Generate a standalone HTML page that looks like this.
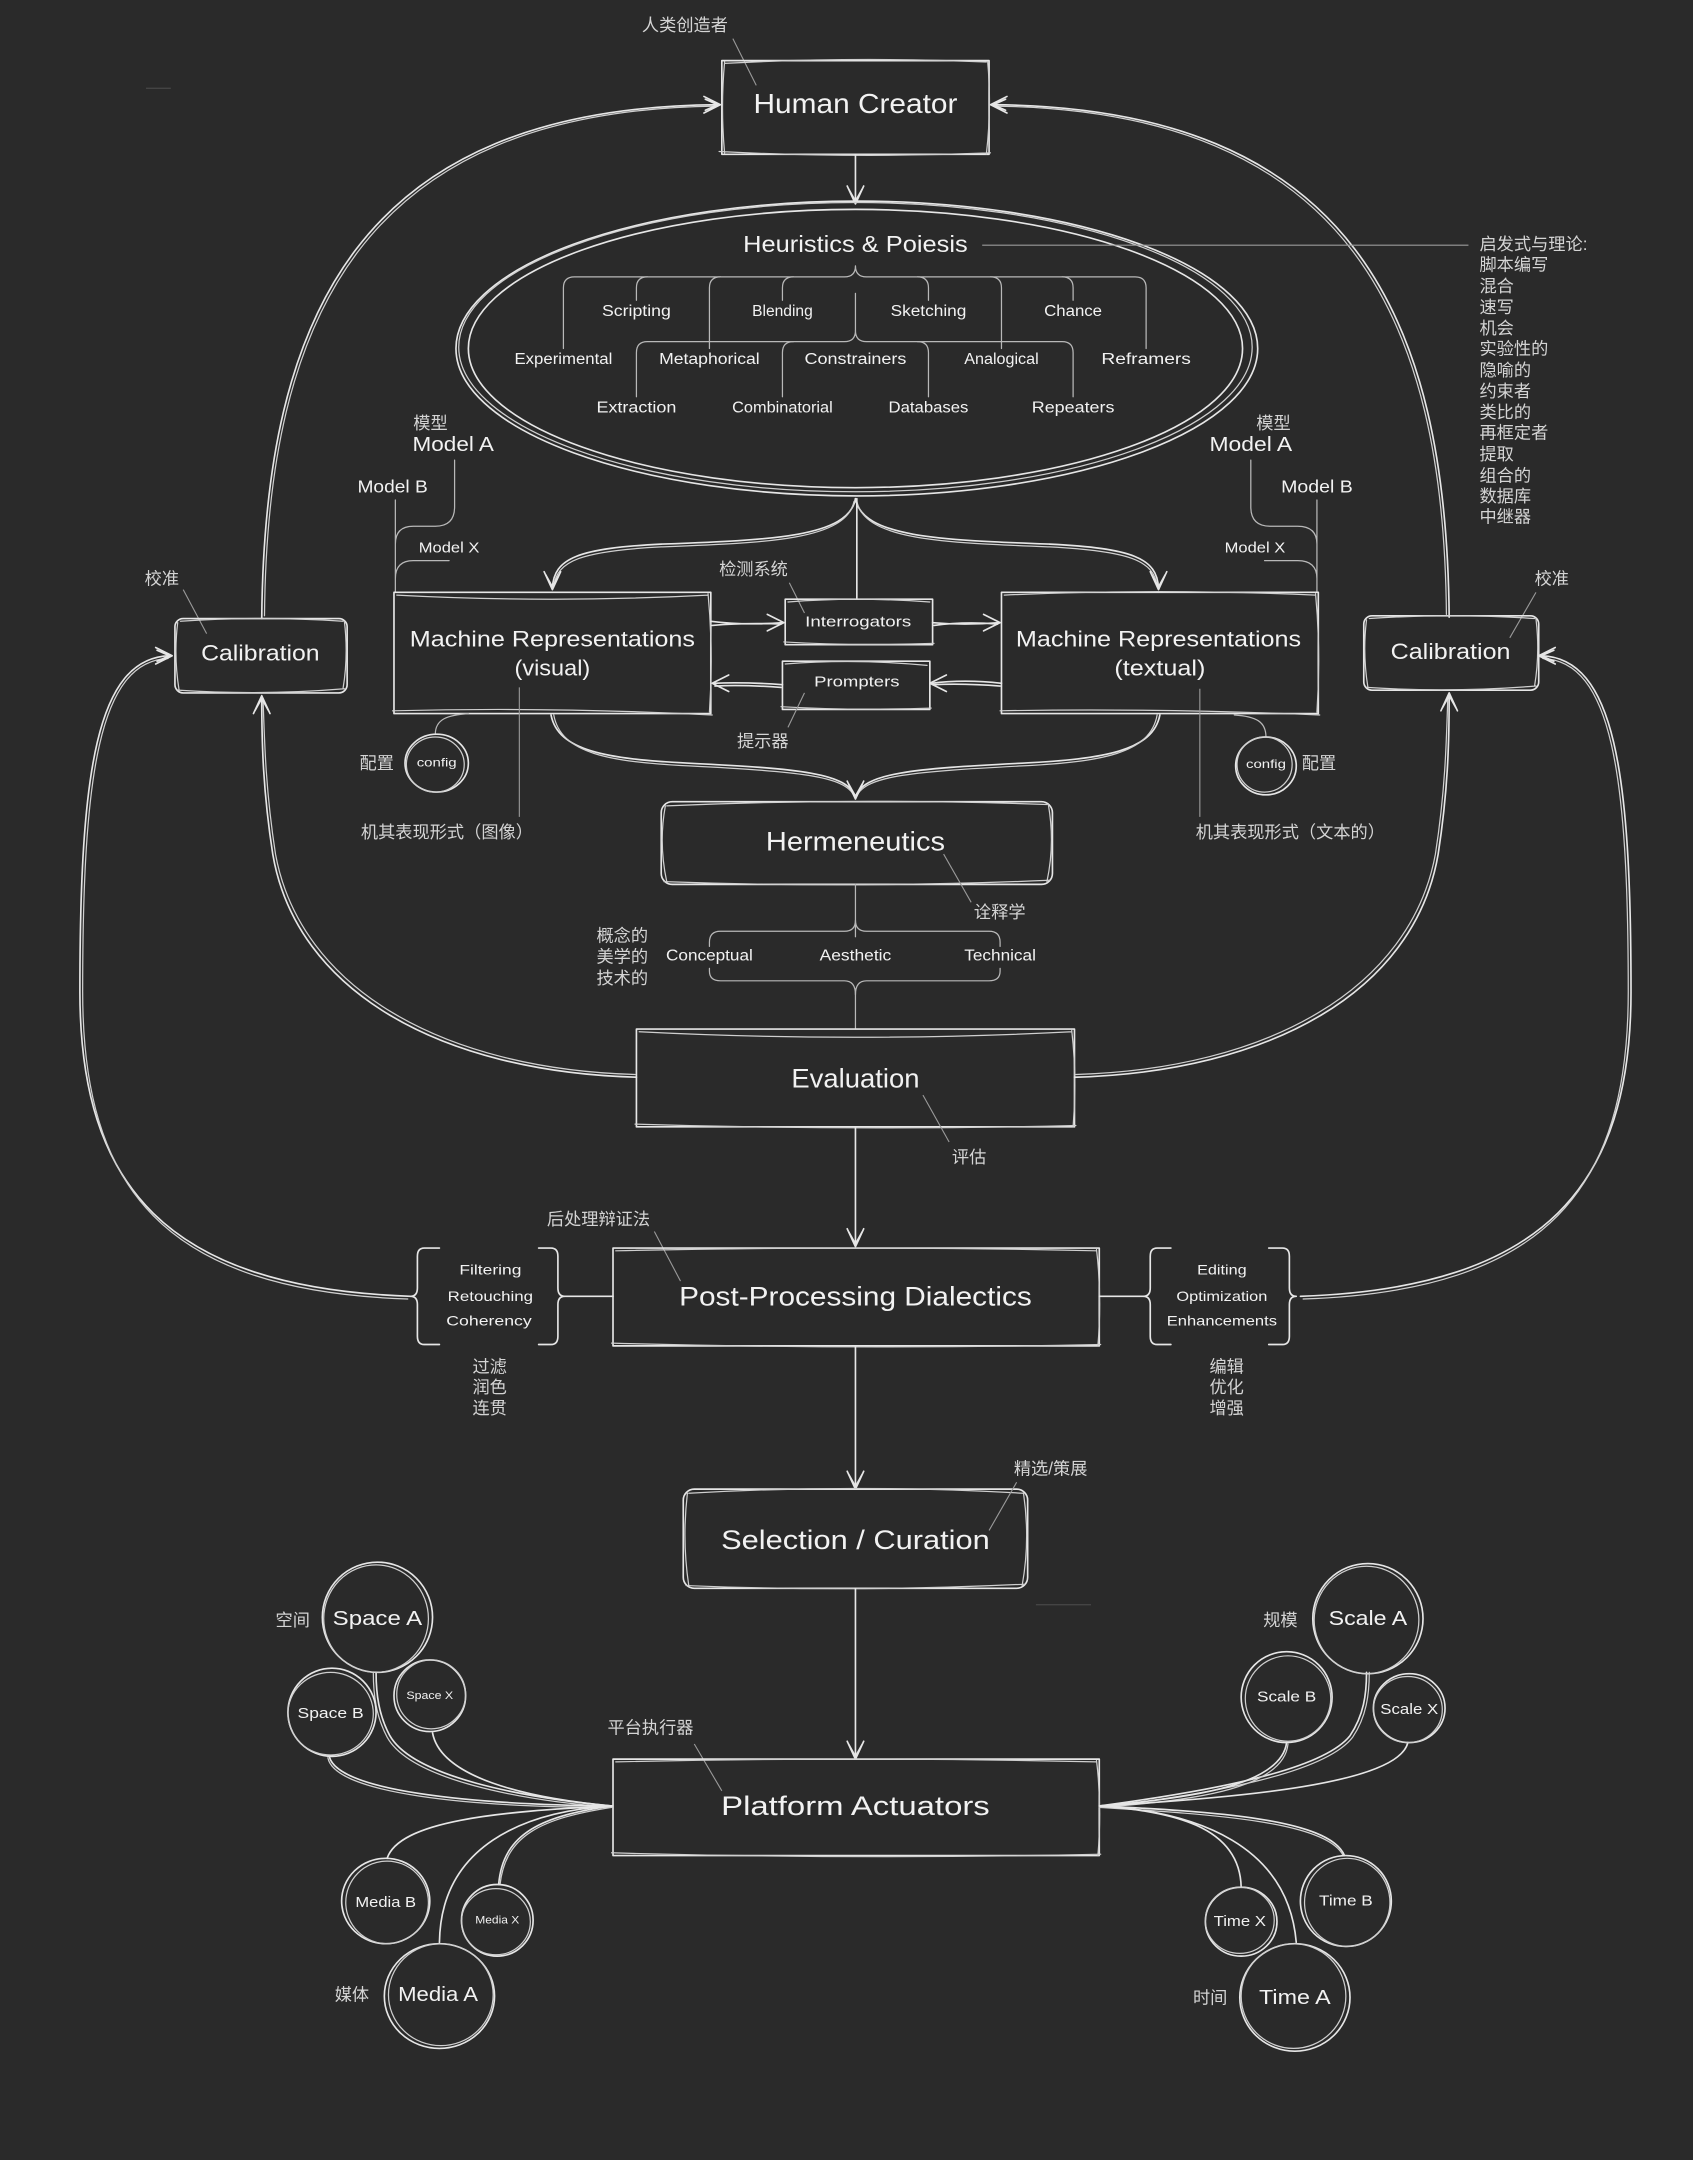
<!DOCTYPE html>
<html><head><meta charset="utf-8">
<style>
html,body{margin:0;padding:0;background:#2a2a2a;}
svg{display:block}
.e{font-family:"Liberation Sans",sans-serif;fill:#f2f2f2;dominant-baseline:central;text-anchor:middle}
.c{font-family:"Liberation Sans","Noto Sans CJK SC",sans-serif;fill:#d4d4d4;dominant-baseline:central;font-size:12.5px}
.s{fill:none;stroke:#e6e6e6;stroke-width:1.2;stroke-linecap:round;stroke-linejoin:round}
.s2{fill:none;stroke:#cfcfcf;stroke-width:0.9;stroke-linecap:round;stroke-linejoin:round}
.b{fill:none;stroke:#b8b8b8;stroke-width:0.9;stroke-linecap:round;stroke-linejoin:round}
.t{fill:none;stroke:#9a9a9a;stroke-width:0.8}
</style></head><body>
<svg width="1693" height="2160" viewBox="0 0 1229 1568" preserveAspectRatio="none" xmlns="http://www.w3.org/2000/svg">
<rect x="0" y="0" width="1229" height="1568" fill="#2a2a2a"/>
<line x1="106" y1="64" x2="124" y2="64" stroke="#555" stroke-width="0.6"/>

<!-- ===== Human Creator ===== -->
<text class="c" x="466" y="18" font-size="13">人类创造者</text>
<path class="t" d="M532,28 L549,62"/>
<rect class="s" x="524" y="44" width="194" height="68"/>
<path class="s2" d="M526,46 Q620,41 716,45 M522,110 Q620,115 719,111 M717,45 Q720,78 716,112 M526,45 Q523,78 526,111"/>
<text class="e" x="621" y="75" font-size="20" textLength="148" lengthAdjust="spacingAndGlyphs">Human Creator</text>
<path class="s" d="M621,112 L621,147"/>
<path class="s" d="M615,135 L621,148 L627,135 M616,137 L621,146 L626,137"/>

<!-- top big arcs -->
<path class="s" d="M190,449 C192,230 260,78 521,76"/>
<path class="s2" d="M192,447 C194,232 262,80 520,77"/>
<path class="s" d="M511,70 L523,76 L511,82 M512,72 L521,76 L512,80"/>
<path class="s" d="M1052,448 C1050,230 982,78 721,76"/>
<path class="s2" d="M1050,446 C1048,232 980,80 722,77"/>
<path class="s" d="M731,70 L719,76 L731,82 M730,72 L721,76 L730,80"/>

<!-- ===== Heuristics ellipse ===== -->
<ellipse class="s" cx="622" cy="253" rx="291" ry="107"/>
<ellipse class="s2" cx="621" cy="252" rx="288" ry="105"/>
<ellipse class="s" cx="621" cy="253" rx="281" ry="101"/>
<text class="e" x="621" y="177" font-size="17" textLength="163" lengthAdjust="spacingAndGlyphs">Heuristics &amp; Poiesis</text>
<path class="t" d="M713,178 L1066,178"/>

<!-- braces -->
<path class="b" d="M409,253 L409,209 Q409,201 417,201 L613,201 Q621,201 621,193 Q621,201 629,201 L824,201 Q832,201 832,209 L832,253"/>
<path class="b" d="M470,201 Q462,201 462,209 L462,218 M523,201 Q515,201 515,209 L515,253 M576,201 Q568,201 568,209 L568,218 M666,201 Q674,201 674,209 L674,218 M719,201 Q727,201 727,209 L727,253 M771,201 Q779,201 779,209 L779,218"/>
<path class="b" d="M621,213 L621,240"/>
<path class="b" d="M462,288 L462,256 Q462,248 470,248 L613,248 Q621,248 621,240 Q621,248 629,248 L771,248 Q779,248 779,256 L779,288"/>
<path class="b" d="M576,248 Q568,248 568,256 L568,288 M666,248 Q674,248 674,256 L674,288"/>

<g font-size="11.5">
<text class="e" x="462" y="226" textLength="50" lengthAdjust="spacingAndGlyphs">Scripting</text>
<text class="e" x="568" y="226" textLength="44" lengthAdjust="spacingAndGlyphs">Blending</text>
<text class="e" x="674" y="226" textLength="55" lengthAdjust="spacingAndGlyphs">Sketching</text>
<text class="e" x="779" y="226" textLength="42" lengthAdjust="spacingAndGlyphs">Chance</text>
<text class="e" x="409" y="261" textLength="71" lengthAdjust="spacingAndGlyphs">Experimental</text>
<text class="e" x="515" y="261" textLength="73" lengthAdjust="spacingAndGlyphs">Metaphorical</text>
<text class="e" x="621" y="261" textLength="74" lengthAdjust="spacingAndGlyphs">Constrainers</text>
<text class="e" x="727" y="261" textLength="54" lengthAdjust="spacingAndGlyphs">Analogical</text>
<text class="e" x="832" y="261" textLength="65" lengthAdjust="spacingAndGlyphs">Reframers</text>
<text class="e" x="462" y="296" textLength="58" lengthAdjust="spacingAndGlyphs">Extraction</text>
<text class="e" x="568" y="296" textLength="73" lengthAdjust="spacingAndGlyphs">Combinatorial</text>
<text class="e" x="674" y="296" textLength="58" lengthAdjust="spacingAndGlyphs">Databases</text>
<text class="e" x="779" y="296" textLength="60" lengthAdjust="spacingAndGlyphs">Repeaters</text>
</g>

<!-- right annotation list -->
<g class="c">
<text x="1074" y="177">启发式与理论:</text>
<text x="1074" y="192">脚本编写</text>
<text x="1074" y="207.5">混合</text>
<text x="1074" y="223">速写</text>
<text x="1074" y="238">机会</text>
<text x="1074" y="253">实验性的</text>
<text x="1074" y="268.5">隐喻的</text>
<text x="1074" y="284">约束者</text>
<text x="1074" y="299">类比的</text>
<text x="1074" y="314">再框定者</text>
<text x="1074" y="329.5">提取</text>
<text x="1074" y="345">组合的</text>
<text x="1074" y="360">数据库</text>
<text x="1074" y="375">中继器</text>
</g>

<!-- ===== Models left ===== -->
<text class="c" x="300" y="307">模型</text>
<text class="e" x="329" y="323" font-size="14.5" textLength="59" lengthAdjust="spacingAndGlyphs">Model A</text>
<text class="e" x="285" y="353" font-size="12.5" textLength="51" lengthAdjust="spacingAndGlyphs">Model B</text>
<text class="e" x="326" y="398" font-size="10.5" textLength="44" lengthAdjust="spacingAndGlyphs">Model X</text>
<path class="b" d="M330,334 L330,368 Q330,382 316,382 L300,382 Q287,382 287,395 L287,430 M287,363 L287,430 M326,407 L300,407 Q287,407 287,420"/>
<!-- Models right -->
<text class="c" x="912" y="307">模型</text>
<text class="e" x="908" y="323" font-size="14.5" textLength="60" lengthAdjust="spacingAndGlyphs">Model A</text>
<text class="e" x="956" y="353" font-size="12.5" textLength="52" lengthAdjust="spacingAndGlyphs">Model B</text>
<text class="e" x="911" y="398" font-size="10.5" textLength="44" lengthAdjust="spacingAndGlyphs">Model X</text>
<path class="b" d="M908,334 L908,368 Q908,382 922,382 L942,382 Q956,382 956,395 L956,430 M956,363 L956,430 M918,407 L942,407 Q956,407 956,420"/>

<!-- ellipse bottom splits -->
<path class="s" d="M621,362 C616,390 560,392 480,395 C420,398 402,405 401,427"/>
<path class="s2" d="M620,364 C614,392 558,394 480,397 C422,400 404,407 402,426"/>
<path class="s" d="M395,415 L401,428 L407,415 M396,417 L401,426 L406,417"/>
<path class="s" d="M621,362 C626,390 682,392 762,395 C822,398 840,405 841,427"/>
<path class="s2" d="M622,364 C628,392 684,394 762,397 C820,400 838,407 840,426"/>
<path class="s" d="M835,415 L841,428 L847,415 M836,417 L841,426 L846,417"/>
<path class="s" d="M622,362 L622,435"/>

<!-- ===== Machine Representations visual ===== -->
<rect class="s" x="286" y="430" width="230" height="88"/>
<path class="s2" d="M288,432 Q400,438 514,432 M285,516 Q400,513 517,519 M514,431 Q518,474 515,517"/>
<text class="e" x="401" y="464" font-size="16" textLength="207" lengthAdjust="spacingAndGlyphs">Machine Representations</text>
<text class="e" x="401" y="485" font-size="16" textLength="55" lengthAdjust="spacingAndGlyphs">(visual)</text>
<!-- textual -->
<rect class="s" x="727" y="430" width="230" height="88"/>
<path class="s2" d="M729,432 Q840,427 955,432 M726,516 Q840,514 958,519 M955,431 Q959,474 956,517"/>
<text class="e" x="841" y="464" font-size="16" textLength="207" lengthAdjust="spacingAndGlyphs">Machine Representations</text>
<text class="e" x="842" y="485" font-size="16" textLength="66" lengthAdjust="spacingAndGlyphs">(textual)</text>

<!-- Interrogators / Prompters -->
<text class="c" x="522" y="413" font-size="12.5">检测系统</text>
<path class="t" d="M573,423 L584,445"/>
<rect class="s" x="570" y="435" width="107" height="33"/>
<path class="s2" d="M572,437 Q620,433 675,437 M569,466 Q620,469 678,467"/>
<text class="e" x="623" y="452" font-size="10.5" textLength="77" lengthAdjust="spacingAndGlyphs">Interrogators</text>
<rect class="s" x="568" y="480" width="107" height="35"/>
<path class="s2" d="M570,482 Q620,478 673,483 M567,513 Q620,516 676,514"/>
<text class="e" x="622" y="495" font-size="11" textLength="62" lengthAdjust="spacingAndGlyphs">Prompters</text>
<text class="c" x="535" y="538" font-size="12.5">提示器</text>
<path class="t" d="M584,503 L572,528"/>
<!-- arrows between -->
<path class="s" d="M516,451 Q540,454 568,452 M517,454 Q540,452 567,453"/>
<path class="s" d="M557,446 L569,452 L557,458"/>
<path class="s" d="M677,452 Q700,454 725,452 M678,454 Q700,451 724,453"/>
<path class="s" d="M714,446 L726,452 L714,458"/>
<path class="s" d="M727,496 Q700,493 676,496 M726,498 Q700,496 677,497"/>
<path class="s" d="M687,490 L675,496 L687,502"/>
<path class="s" d="M568,497 Q540,495 518,496 M567,499 Q540,497 519,498"/>
<path class="s" d="M529,490 L517,496 L529,502"/>

<!-- Calibration left -->
<text class="c" x="105" y="420">校准</text>
<path class="t" d="M133,428 L150,460"/>
<rect class="s" x="127" y="449" width="125" height="54" rx="6"/>
<path class="s2" d="M131,451 Q190,447 249,451 M129,501 Q190,505 250,500 M129,452 Q126,476 130,501 M250,451 Q253,476 249,500"/>
<text class="e" x="189" y="474" font-size="16" textLength="86" lengthAdjust="spacingAndGlyphs">Calibration</text>
<!-- Calibration right -->
<text class="c" x="1114" y="420">校准</text>
<path class="t" d="M1115,430 L1096,463"/>
<rect class="s" x="990" y="447" width="127" height="54" rx="6"/>
<path class="s2" d="M994,449 Q1053,445 1114,449 M992,499 Q1053,503 1115,498 M992,450 Q989,474 993,499 M1115,449 Q1118,474 1114,498"/>
<text class="e" x="1053" y="473" font-size="16" textLength="87" lengthAdjust="spacingAndGlyphs">Calibration</text>

<!-- config circles -->
<path class="b" d="M340,518 C325,519 316,522 316,533"/>
<ellipse class="s" cx="317" cy="554" rx="23" ry="21"/>
<ellipse class="s2" cx="316" cy="555" rx="21" ry="20"/>
<text class="e" x="317" y="554" font-size="8.5" textLength="29" lengthAdjust="spacingAndGlyphs">config</text>
<text class="c" x="261" y="554">配置</text>
<path class="b" d="M896,519 C912,520 919,524 919,535"/>
<ellipse class="s" cx="919" cy="556" rx="22" ry="21"/>
<ellipse class="s2" cx="918" cy="555" rx="20" ry="20"/>
<text class="e" x="919" y="555" font-size="8.5" textLength="29" lengthAdjust="spacingAndGlyphs">config</text>
<text class="c" x="945" y="554">配置</text>

<!-- leaders to 机其表现形式 -->
<path class="t" d="M377,499 L377,593 M871,500 L871,593"/>
<text class="c" x="262" y="604" font-size="12">机其表现形式（图像）</text>
<text class="c" x="868" y="604" font-size="12.2">机其表现形式（文本的）</text>

<!-- boxes to Hermeneutics -->
<path class="s" d="M400,519 C405,545 440,551 500,554 C580,558 616,561 621,579"/>
<path class="s2" d="M402,519 C407,547 442,553 500,556 C578,560 614,563 620,578"/>
<path class="s" d="M842,519 C837,545 802,551 742,554 C662,558 626,561 621,579"/>
<path class="s2" d="M840,519 C835,547 800,553 742,556 C664,560 628,563 622,578"/>
<path class="s" d="M615,567 L621,580 L627,567 M616,569 L621,578 L626,569"/>

<!-- Hermeneutics -->
<rect class="s" x="480" y="582" width="284" height="60" rx="8"/>
<path class="s2" d="M484,585 Q620,579 760,584 M482,640 Q620,645 762,639 M483,585 Q478,612 484,640 M761,584 Q766,612 760,640"/>
<text class="e" x="621" y="611" font-size="19.5" textLength="130" lengthAdjust="spacingAndGlyphs">Hermeneutics</text>
<path class="t" d="M685,620 L705,655"/>
<text class="c" x="707" y="662">诠释学</text>

<path class="b" d="M621,642 L621,680"/>
<path class="b" d="M515,687 L515,684 Q515,676 523,676 L613,676 Q621,676 621,668 Q621,676 629,676 L718,676 Q726,676 726,684 L726,687"/>
<path class="b" d="M515,703 L515,705 Q515,712 523,712 L613,712 Q621,712 621,722 Q621,712 629,712 L718,712 Q726,712 726,705 L726,703"/>
<path class="b" d="M621,718 L621,747"/>
<g font-size="11.5">
<text class="e" x="515" y="694" textLength="63" lengthAdjust="spacingAndGlyphs">Conceptual</text>
<text class="e" x="621" y="694" textLength="52" lengthAdjust="spacingAndGlyphs">Aesthetic</text>
<text class="e" x="726" y="694" textLength="52" lengthAdjust="spacingAndGlyphs">Technical</text>
</g>
<text class="c" x="433" y="679">概念的</text>
<text class="c" x="433" y="694.5">美学的</text>
<text class="c" x="433" y="710">技术的</text>

<!-- Evaluation -->
<rect class="s" x="462" y="747" width="318" height="71"/>
<path class="s2" d="M464,749 Q620,757 778,749 M461,816 Q620,821 781,817 M778,748 Q782,783 779,818"/>
<text class="e" x="621" y="783" font-size="19.5" textLength="93" lengthAdjust="spacingAndGlyphs">Evaluation</text>
<path class="t" d="M670,795 L689,829"/>
<text class="c" x="691" y="840">评估</text>

<!-- Evaluation to Calibration curves -->
<path class="s" d="M462,782 C320,778 215,720 198,620 C191,575 190,540 190,507"/>
<path class="s2" d="M461,780 C322,776 218,718 200,620 C193,575 192,540 191,508"/>
<path class="s" d="M184,518 L190,505 L196,518 M185,516 L190,507 L195,516"/>
<path class="s" d="M780,782 C922,778 1027,720 1044,620 C1051,575 1052,540 1052,505"/>
<path class="s2" d="M781,780 C920,776 1024,718 1042,620 C1049,575 1050,540 1051,506"/>
<path class="s" d="M1046,516 L1052,503 L1058,516 M1047,514 L1052,505 L1057,514"/>

<!-- Evaluation -> Post -->
<path class="s" d="M621,818 L621,904"/>
<path class="s" d="M615,892 L621,905 L627,892 M616,894 L621,903 L626,894"/>

<!-- Post-Processing -->
<text class="c" x="397" y="885">后处理辩证法</text>
<path class="t" d="M475,894 L494,930"/>
<rect class="s" x="445" y="906" width="353" height="71"/>
<path class="s2" d="M447,908 Q620,904 796,908 M444,975 Q620,980 799,976 M796,907 Q800,941 797,977"/>
<text class="e" x="621" y="941" font-size="19.5" textLength="256" lengthAdjust="spacingAndGlyphs">Post-Processing Dialectics</text>

<path class="s" d="M319,906 L308,906 Q303,906 303,912 L303,935 Q303,941 298,941 Q303,941 303,947 L303,970 Q303,976 308,976 L319,976"/>
<path class="s" d="M391,906 L400,906 Q405,906 405,912 L405,935 Q405,941 410,941 Q405,941 405,947 L405,970 Q405,976 400,976 L391,976"/>
<path class="s" d="M410,941 L445,941"/>
<path class="s" d="M850,906 L840,906 Q835,906 835,912 L835,935 Q835,941 830,941 Q835,941 835,947 L835,970 Q835,976 840,976 L850,976"/>
<path class="s" d="M921,906 L931,906 Q936,906 936,912 L936,935 Q936,941 941,941 Q936,941 936,947 L936,970 Q936,976 931,976 L921,976"/>
<path class="s" d="M798,941 L830,941"/>
<g font-size="10">
<text class="e" x="356" y="922" textLength="45" lengthAdjust="spacingAndGlyphs">Filtering</text>
<text class="e" x="356" y="941" textLength="62" lengthAdjust="spacingAndGlyphs">Retouching</text>
<text class="e" x="355" y="959" textLength="62" lengthAdjust="spacingAndGlyphs">Coherency</text>
<text class="e" x="887" y="922" textLength="36" lengthAdjust="spacingAndGlyphs">Editing</text>
<text class="e" x="887" y="941" textLength="66" lengthAdjust="spacingAndGlyphs">Optimization</text>
<text class="e" x="887" y="959" textLength="80" lengthAdjust="spacingAndGlyphs">Enhancements</text>
</g>
<text class="c" x="343" y="992">过滤</text>
<text class="c" x="343" y="1007">润色</text>
<text class="c" x="343" y="1022">连贯</text>
<text class="c" x="878" y="992">编辑</text>
<text class="c" x="878" y="1007">优化</text>
<text class="c" x="878" y="1022">增强</text>

<!-- big C curves -->
<path class="s" d="M298,941 C120,935 58,860 58,720 C58,560 70,478 123,476"/>
<path class="s2" d="M296,943 C118,937 60,862 60,720 C60,562 72,480 122,478"/>
<path class="s" d="M113,470 L125,476 L113,482 M114,472 L123,476 L114,480"/>
<path class="s" d="M944,941 C1122,935 1184,860 1184,720 C1184,560 1172,478 1119,476"/>
<path class="s2" d="M946,943 C1124,937 1182,862 1182,720 C1182,562 1170,480 1120,478"/>
<path class="s" d="M1129,470 L1117,476 L1129,482 M1128,472 L1119,476 L1128,480"/>

<!-- Post -> Selection -->
<path class="s" d="M621,977 L621,1080"/>
<path class="s" d="M615,1068 L621,1081 L627,1068 M616,1070 L621,1079 L626,1070"/>

<!-- Selection / Curation -->
<rect class="s" x="496" y="1081" width="250" height="72" rx="8"/>
<path class="s2" d="M500,1084 Q620,1077 743,1084 M498,1151 Q620,1156 744,1150 M499,1084 Q495,1118 500,1151 M743,1084 Q748,1118 742,1151"/>
<text class="e" x="621" y="1118" font-size="19.5" textLength="195" lengthAdjust="spacingAndGlyphs">Selection / Curation</text>
<text class="c" x="736" y="1066">精选/策展</text>
<path class="t" d="M738,1076 L718,1111"/>
<line x1="752" y1="1165" x2="792" y2="1165" stroke="#555" stroke-width="0.6"/>

<!-- Selection -> Platform -->
<path class="s" d="M621,1153 L621,1276"/>
<path class="s" d="M615,1264 L621,1277 L627,1264 M616,1266 L621,1275 L626,1266"/>

<!-- Platform Actuators -->
<text class="c" x="441" y="1254">平台执行器</text>
<path class="t" d="M504,1266 L524,1300"/>
<rect class="s" x="445" y="1277" width="353" height="70"/>
<path class="s2" d="M447,1279 Q620,1275 796,1279 M444,1345 Q620,1350 799,1346 M796,1278 Q800,1311 797,1347"/>
<text class="e" x="621" y="1311" font-size="19.5" textLength="195" lengthAdjust="spacingAndGlyphs">Platform Actuators</text>

<!-- left fan -->
<path class="s" d="M444,1311 C380,1305 300,1290 283,1260 C275,1245 273,1230 273,1214"/>
<path class="s2" d="M444,1312 C378,1307 298,1292 281,1261 C273,1246 271,1230 271,1214"/>
<path class="s" d="M444,1311 C340,1310 245,1300 239,1275"/>
<path class="s2" d="M444,1312 C340,1312 243,1302 238,1276"/>
<path class="s" d="M444,1311 C380,1305 320,1290 314,1258"/>
<path class="s" d="M444,1311 C360,1315 290,1322 281,1349"/>
<path class="s" d="M444,1311 C395,1318 365,1330 362,1368"/>
<path class="s2" d="M444,1312 C393,1320 367,1332 363,1368"/>
<path class="s" d="M444,1311 C380,1315 320,1340 319,1410"/>

<ellipse class="s" cx="274" cy="1174" rx="40" ry="40"/>
<ellipse class="s2" cx="273" cy="1175" rx="38" ry="39"/>
<text class="e" x="274" y="1175" font-size="15" textLength="65" lengthAdjust="spacingAndGlyphs">Space A</text>
<text class="c" x="200" y="1176">空间</text>
<ellipse class="s" cx="241" cy="1243" rx="32" ry="32"/>
<ellipse class="s2" cx="240" cy="1244" rx="31" ry="30"/>
<text class="e" x="240" y="1244" font-size="11" textLength="48" lengthAdjust="spacingAndGlyphs">Space B</text>
<ellipse class="s" cx="312" cy="1231" rx="26" ry="26"/>
<ellipse class="s2" cx="313" cy="1230" rx="25" ry="25"/>
<text class="e" x="312" y="1231" font-size="8" textLength="34" lengthAdjust="spacingAndGlyphs">Space X</text>
<ellipse class="s" cx="280" cy="1380" rx="32" ry="31"/>
<ellipse class="s2" cx="281" cy="1381" rx="30" ry="30"/>
<text class="e" x="280" y="1381" font-size="11" textLength="44" lengthAdjust="spacingAndGlyphs">Media B</text>
<ellipse class="s" cx="361" cy="1394" rx="26" ry="26"/>
<ellipse class="s2" cx="360" cy="1395" rx="25" ry="24"/>
<text class="e" x="361" y="1394" font-size="8" textLength="32" lengthAdjust="spacingAndGlyphs">Media X</text>
<ellipse class="s" cx="319" cy="1449" rx="40" ry="38"/>
<ellipse class="s2" cx="320" cy="1448" rx="38" ry="37"/>
<text class="e" x="318" y="1448" font-size="15" textLength="58" lengthAdjust="spacingAndGlyphs">Media A</text>
<text class="c" x="243" y="1448">媒体</text>

<!-- right fan -->
<path class="s" d="M798,1311 C880,1300 960,1285 980,1260 C990,1245 992,1230 992,1214"/>
<path class="s2" d="M798,1312 C882,1302 962,1287 982,1261 C992,1246 994,1230 994,1214"/>
<path class="s" d="M798,1311 C870,1305 930,1295 934,1265"/>
<path class="s2" d="M798,1312 C872,1307 932,1297 935,1266"/>
<path class="s" d="M798,1311 C900,1305 1015,1295 1022,1265"/>
<path class="s" d="M798,1311 C880,1315 965,1320 976,1347"/>
<path class="s2" d="M798,1312 C878,1317 963,1322 975,1347"/>
<path class="s" d="M798,1311 C850,1315 900,1325 901,1370"/>
<path class="s" d="M798,1311 C870,1315 935,1340 941,1410"/>

<ellipse class="s" cx="993" cy="1175" rx="40" ry="40"/>
<ellipse class="s2" cx="992" cy="1176" rx="38" ry="39"/>
<text class="e" x="993" y="1175" font-size="15" textLength="57" lengthAdjust="spacingAndGlyphs">Scale A</text>
<text class="c" x="917" y="1176">规模</text>
<ellipse class="s" cx="934" cy="1232" rx="33" ry="33"/>
<ellipse class="s2" cx="935" cy="1233" rx="31" ry="31"/>
<text class="e" x="934" y="1232" font-size="11" textLength="43" lengthAdjust="spacingAndGlyphs">Scale B</text>
<ellipse class="s" cx="1023" cy="1240" rx="26" ry="25"/>
<ellipse class="s2" cx="1022" cy="1241" rx="25" ry="24"/>
<text class="e" x="1023" y="1241" font-size="11" textLength="42" lengthAdjust="spacingAndGlyphs">Scale X</text>
<ellipse class="s" cx="977" cy="1380" rx="33" ry="33"/>
<ellipse class="s2" cx="978" cy="1381" rx="31" ry="32"/>
<text class="e" x="977" y="1380" font-size="11" textLength="39" lengthAdjust="spacingAndGlyphs">Time B</text>
<ellipse class="s" cx="901" cy="1395" rx="26" ry="25"/>
<ellipse class="s2" cx="900" cy="1394" rx="25" ry="24"/>
<text class="e" x="900" y="1395" font-size="11" textLength="38" lengthAdjust="spacingAndGlyphs">Time X</text>
<ellipse class="s" cx="940" cy="1450" rx="40" ry="39"/>
<ellipse class="s2" cx="939" cy="1449" rx="38" ry="38"/>
<text class="e" x="940" y="1450" font-size="15" textLength="52" lengthAdjust="spacingAndGlyphs">Time A</text>
<text class="c" x="866" y="1450">时间</text>
</svg>
</body></html>
